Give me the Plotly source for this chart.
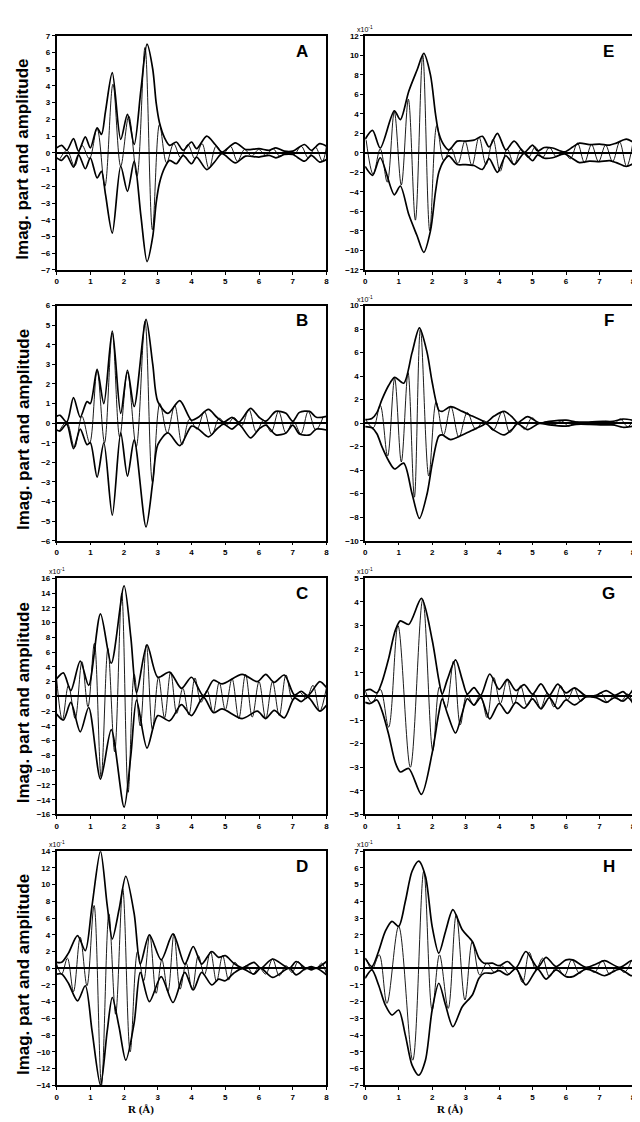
import plotly.graph_objects as go

# ---------------- data ----------------
# Amplitude envelope knots (R in Angstrom, amplitude in displayed units)
A_env_r = [0.0,0.15,0.3,0.5,0.65,0.85,1.0,1.2,1.33,1.45,1.65,1.9,2.1,2.3,2.5,2.68,2.85,2.95,3.05,3.2,3.35,3.55,3.75,4.0,4.15,4.45,4.7,4.9,5.3,5.6,6.0,6.3,6.5,6.75,7.0,7.35,7.55,7.8,8.0]
A_env = [0.3,0.45,0.15,0.85,0.1,0.95,0.3,1.5,1.1,2.5,4.8,0.8,2.3,0.5,3.8,6.5,5.0,3.0,1.8,0.9,0.45,0.65,0.15,0.65,0.25,1.0,0.5,0.05,0.6,0.2,0.25,0.15,0.3,0.1,0.1,0.5,0.15,0.55,0.4]
A_im_r = [0.1,0.31,0.53,0.75,0.97,1.2,1.43,1.67,1.9,2.14,2.38,2.62,2.84,3.05,3.26,3.47,3.68,3.89,4.1,4.31,4.52,4.73,4.94,5.15,5.36,5.57,5.78,5.99,6.2,6.41,6.62,6.83,7.04,7.25,7.46,7.67,7.88,8.0]
A_im = [-0.35,0.15,-0.8,0.45,-0.35,1.45,-2.0,4.1,-0.8,2.2,-1.4,6.3,-4.6,1.7,-0.6,0.55,-0.3,0.5,-0.35,0.55,-0.95,0.4,-0.05,0.4,-0.5,0.2,-0.2,0.2,-0.15,0.25,-0.2,0.08,-0.1,0.4,-0.3,0.35,-0.5,0.4]

B_env_r = [0,0.1,0.3,0.5,0.7,0.9,1.0,1.2,1.4,1.65,1.9,2.1,2.3,2.65,2.85,3.0,3.3,3.65,4.0,4.2,4.5,4.75,4.95,5.2,5.4,5.75,6.0,6.2,6.5,6.8,7.0,7.2,7.5,7.7,8.0]
B_env = [0.35,0.4,0.05,1.3,0.3,1.1,1.0,2.75,1.0,4.7,0.5,2.7,0.85,5.3,3.0,1.1,0.5,1.15,0.15,0.3,0.7,0.3,0.05,0.3,0.05,0.75,0.3,0.1,0.6,0.5,0.1,0.55,0.6,0.3,0.35]
B_im_r = [0.08,0.3,0.53,0.75,0.98,1.2,1.42,1.65,1.87,2.1,2.36,2.62,2.84,3.06,3.28,3.5,3.72,3.94,4.16,4.38,4.6,4.82,5.04,5.26,5.48,5.7,5.92,6.14,6.36,6.58,6.8,7.02,7.24,7.46,7.68,7.9]
B_im = [-0.4,0.05,-1.25,0.35,-1.0,2.7,-1.0,4.6,-0.7,2.6,-1.2,5.2,-3.0,1.0,-0.5,0.9,-1.1,0.2,-0.3,0.6,-0.6,0.25,-0.1,0.28,-0.15,0.7,-0.45,0.15,-0.45,0.6,-0.5,0.1,-0.55,0.6,-0.35,0.3]

C_env_r = [0,0.2,0.42,0.7,0.95,1.3,1.62,2.0,2.2,2.37,2.68,3.0,3.35,3.7,4.0,4.35,4.65,4.9,5.5,5.95,6.2,6.45,6.75,7.05,7.25,7.45,7.8,8.0]
C_env = [2.4,3.2,0.8,4.8,1.5,11.2,4.5,15.0,8.0,0.5,7.0,2.6,3.3,1.1,2.6,0.1,2.2,1.7,3.0,2.0,3.0,1.9,2.9,0.2,0.7,0.1,2.0,1.2]
C_im_r = [0.0,0.17,0.35,0.55,0.75,0.93,1.12,1.32,1.52,1.72,1.93,2.12,2.3,2.48,2.66,2.84,3.02,3.2,3.38,3.56,3.74,3.92,4.1,4.28,4.46,4.64,4.82,5.0,5.2,5.4,5.6,5.8,6.0,6.2,6.4,6.6,6.8,7.0,7.2,7.4,7.6,7.8,8.0]
C_im = [2.4,-3.2,1.5,-3.0,4.7,-1.4,7.2,-11.0,6.5,-7.5,14.0,-13.0,3.0,-4.0,7.0,-4.5,2.6,-2.9,3.3,-2.3,1.1,-2.5,2.5,-0.8,0.8,-2.2,1.9,-1.8,2.4,-3.0,3.0,-2.8,2.0,-3.0,2.0,-2.6,2.9,-0.5,0.6,-0.3,1.5,-2.0,1.2]

D_env_r = [0,0.15,0.35,0.62,0.85,1.05,1.3,1.5,1.65,1.85,2.05,2.3,2.48,2.75,3.1,3.45,3.8,4.05,4.3,4.6,4.8,5.0,5.25,5.5,5.85,6.05,6.4,6.9,7.1,7.4,7.55,7.7,8.0]
D_env = [0.7,0.7,1.8,3.9,2.1,7.5,14.0,7.5,3.5,7.0,11.0,6.5,0.5,4.0,1.0,4.1,0.5,2.6,0.5,2.0,1.3,1.5,0.6,0.05,0.7,0.0,1.1,0.0,0.8,0.0,0.2,0.0,0.8]
D_im_r = [0.0,0.15,0.32,0.5,0.7,0.9,1.11,1.33,1.55,1.75,1.96,2.18,2.4,2.58,2.76,2.95,3.12,3.3,3.48,3.66,3.84,4.02,4.2,4.38,4.56,4.74,4.92,5.1,5.28,5.46,5.64,5.82,6.0,6.2,6.4,6.6,6.8,6.98,7.16,7.34,7.52,7.7,7.86,8.0]
D_im = [0.5,-0.7,1.2,-2.8,3.7,-2.1,7.5,-14.0,6.5,-5.5,9.5,-10.0,2.0,-1.5,4.0,-3.0,1.0,-2.8,4.1,-2.5,0.6,-2.6,1.5,-0.8,2.0,-1.6,1.5,-1.4,0.7,-0.1,0.3,-0.7,0.1,-0.7,1.1,-0.9,0.3,-0.5,0.8,-0.2,0.2,-0.05,0.6,-0.8]

E_env_r = [0,0.22,0.45,0.87,1.05,1.3,1.55,1.75,1.95,2.1,2.2,2.35,2.5,2.75,3.0,3.25,3.5,3.7,3.95,4.2,4.45,4.75,5.0,5.15,5.35,5.6,5.95,6.2,6.4,6.7,7.0,7.3,7.5,7.8,8.0]
E_env = [1.4,2.3,0.5,4.3,3.4,6.3,8.5,10.2,8.0,4.0,2.0,0.8,0.3,1.2,1.2,1.3,1.7,0.6,2.0,0.3,1.2,0.05,0.8,0.2,0.55,0.5,0.1,0.6,1.0,0.85,0.9,0.8,1.0,1.4,1.1]
E_im_r = [0.03,0.24,0.45,0.66,0.87,1.08,1.29,1.5,1.72,1.93,2.14,2.35,2.56,2.77,2.98,3.19,3.4,3.61,3.82,4.03,4.24,4.45,4.66,4.87,5.08,5.29,5.5,5.71,5.92,6.13,6.34,6.55,6.76,6.97,7.18,7.39,7.6,7.81,8.0]
E_im = [1.3,-2.2,0.4,-3.0,4.2,-3.3,5.5,-6.9,10.0,-8.0,2.8,-0.8,0.5,-1.1,1.2,-1.3,1.6,-1.2,1.4,-1.9,0.4,-1.2,0.4,-0.5,0.6,-0.5,0.55,-0.4,0.1,-0.6,1.0,-1.0,0.85,-0.9,0.8,-0.9,1.1,-1.4,1.1]

F_env_r = [0,0.2,0.35,0.5,0.7,0.88,1.15,1.4,1.62,1.85,2.0,2.2,2.3,2.55,2.9,3.2,3.5,3.6,3.85,4.15,4.4,4.55,4.85,5.2,5.5,6.0,6.3,6.7,7.1,7.4,7.7,8.0]
F_env = [0.3,0.4,0.9,2.0,3.2,3.9,3.4,6.0,8.1,6.0,3.5,1.1,1.0,1.4,1.0,0.6,0.2,0.05,0.6,1.0,0.5,0.05,0.55,0.02,0.15,0.25,0.1,0.1,0.15,0.15,0.35,0.25]
F_im_r = [0.02,0.24,0.45,0.67,0.88,1.08,1.28,1.47,1.65,1.9,2.12,2.34,2.56,2.8,3.05,3.3,3.55,3.82,4.1,4.32,4.54,4.76,4.98,5.2,5.42,5.64,5.86,6.08,6.3,6.52,6.74,6.96,7.18,7.4,7.62,7.84,8.0]
F_im = [0.28,-0.4,1.5,-2.8,3.8,-3.3,4.3,-6.3,8.0,-4.5,1.8,-1.0,1.4,-1.2,0.9,-0.5,0.2,-0.6,1.0,-0.8,0.05,-0.5,0.45,-0.02,0.12,-0.15,0.2,-0.25,0.12,-0.1,0.1,-0.1,0.15,-0.15,0.35,-0.3,0.25]

G_env_r = [0,0.15,0.35,0.5,0.7,0.9,1.05,1.3,1.68,2.0,2.2,2.3,2.45,2.7,2.9,3.05,3.25,3.45,3.72,4.0,4.25,4.5,4.75,5.0,5.25,5.5,5.75,6.0,6.25,6.6,6.9,7.2,7.45,7.7,7.85,8.0]
G_env = [0.25,0.3,0.15,0.6,1.6,2.8,3.2,3.05,4.15,2.4,0.7,0.1,0.7,1.55,0.7,0.1,0.37,0.05,0.95,0.3,0.72,0.25,0.5,0.1,0.53,0.05,0.52,0.15,0.36,0.02,0.05,0.25,0.05,0.2,0.05,0.3]
G_im_r = [0.0,0.2,0.45,0.7,0.98,1.35,1.72,2.02,2.22,2.42,2.64,2.84,3.04,3.24,3.44,3.64,3.84,4.04,4.24,4.44,4.64,4.84,5.04,5.24,5.44,5.64,5.84,6.04,6.24,6.44,6.64,6.84,7.04,7.24,7.44,7.64,7.84,8.0]
G_im = [0.25,-0.28,0.3,-1.3,3.0,-3.0,4.1,-2.3,0.4,-0.5,1.5,-1.2,0.1,-0.35,0.05,-0.9,0.8,-0.3,0.7,-0.35,0.45,-0.4,0.1,-0.5,0.15,-0.45,0.45,-0.15,0.35,-0.2,0.02,-0.05,0.15,-0.25,0.05,-0.2,0.1,-0.3]

H_env_r = [0,0.2,0.4,0.6,0.8,1.0,1.2,1.4,1.6,1.8,2.0,2.2,2.4,2.62,2.9,3.2,3.4,3.55,3.8,4.0,4.25,4.5,4.8,5.15,5.4,5.7,6.0,6.2,6.6,6.9,7.15,7.6,7.95,8.0]
H_env = [0.6,0.1,1.0,2.2,2.8,2.5,4.0,5.8,6.4,5.5,2.5,0.9,2.2,3.5,2.3,1.6,0.6,0.3,0.3,0.15,0.4,0.02,1.0,0.05,0.65,0.1,0.5,0.5,0.05,0.25,0.45,0.05,0.45,0.4]
H_im_r = [0.05,0.2,0.42,0.65,1.0,1.42,1.75,2.0,2.22,2.48,2.72,2.98,3.2,3.42,3.64,3.86,4.08,4.3,4.5,4.7,4.9,5.1,5.3,5.5,5.72,5.95,6.17,6.4,6.62,6.85,7.08,7.3,7.52,7.74,7.95]
H_im = [0.5,-0.1,0.8,-2.1,2.5,-5.5,5.8,-2.5,0.8,-2.4,3.2,-1.9,1.6,-0.4,0.3,-0.25,0.15,-0.35,0.02,-0.85,0.95,-0.1,0.6,-0.5,0.1,-0.45,0.5,-0.3,0.05,-0.25,0.45,-0.35,0.1,-0.25,0.45]

# panel labels, y-axis limits / tick steps, scale note
PANELS = ['A', 'B', 'C', 'D', 'E', 'F', 'G', 'H']
Y_MAX = [7, 6, 16, 14, 12, 10, 5, 7]
Y_STEP = [1, 1, 2, 2, 2, 2, 1, 1]
SCALED = [False, False, True, True, True, True, True, True]
X_TICKS = [0, 1, 2, 3, 4, 5, 6, 7, 8]

DATA = {
    'A': (A_env_r, A_env, A_im_r, A_im), 'B': (B_env_r, B_env, B_im_r, B_im),
    'C': (C_env_r, C_env, C_im_r, C_im), 'D': (D_env_r, D_env, D_im_r, D_im),
    'E': (E_env_r, E_env, E_im_r, E_im), 'F': (F_env_r, F_env, F_im_r, F_im),
    'G': (G_env_r, G_env, G_im_r, G_im), 'H': (H_env_r, H_env, H_im_r, H_im),
}

# ---------------- layout geometry ----------------
# The page body has an 8px margin, so the figure is drawn 8px in from the
# window's top-left corner; positions below are window pixels, shifted by OFF.
OFF = 8
W, H = 632, 1114
COL_X = [(55, 327), (366, 636)]
ROW_Y = [(32, 268), (304, 541), (579, 817), (854, 1090)]


def px(x):
    return (x - OFF) / W


def py(y):
    return 1 - (y - OFF) / H


fig = go.Figure()
layout = dict(width=W, height=H, margin=dict(l=0, r=0, t=0, b=0),
              paper_bgcolor='white', plot_bgcolor='white', showlegend=False)
annotations = []
tickfont = dict(family='Liberation Sans', size=8, color='black', weight='bold')

for i, name in enumerate(PANELS):
    k = i + 1
    col = 0 if i < 4 else 1
    row = i % 4
    xa = 'x' if k == 1 else f'x{k}'
    ya = 'y' if k == 1 else f'y{k}'
    env_r, env, im_r, im = DATA[name]

    fig.add_trace(go.Scatter(x=im_r, y=im, mode='lines', xaxis=xa, yaxis=ya,
                             line=dict(color='black', width=0.9, shape='spline', smoothing=1.0),
                             hoverinfo='skip'))
    fig.add_trace(go.Scatter(x=env_r, y=env, mode='lines', xaxis=xa, yaxis=ya,
                             line=dict(color='black', width=1.7, shape='spline', smoothing=0.8),
                             hoverinfo='skip'))
    fig.add_trace(go.Scatter(x=env_r, y=[-v for v in env], mode='lines', xaxis=xa, yaxis=ya,
                             line=dict(color='black', width=1.7, shape='spline', smoothing=0.8),
                             hoverinfo='skip'))

    x0, x1 = COL_X[col]
    t, b = ROW_Y[row]
    m, s = Y_MAX[i], Y_STEP[i]
    yt = list(range(-m, m + 1, s))
    axsuffix = '' if k == 1 else str(k)
    layout['xaxis' + axsuffix] = dict(
        domain=[px(x0), px(x1)], anchor=ya, range=[0, 8], tickvals=X_TICKS,
        ticks='outside', ticklen=3, tickwidth=1, tickcolor='black',
        showline=True, mirror=True, linecolor='black', linewidth=1.5,
        showgrid=False, zeroline=False, tickfont=tickfont, fixedrange=True,
        ticklabeloverflow='allow')
    layout['yaxis' + axsuffix] = dict(
        domain=[py(b), py(t)], anchor=xa, range=[-m, m], tickvals=yt,
        ticks='outside', ticklen=3, tickwidth=1, tickcolor='black',
        showline=True, mirror=True, linecolor='black', linewidth=1.5,
        showgrid=False, zeroline=True, zerolinecolor='black', zerolinewidth=2.4,
        tickfont=tickfont, fixedrange=True)

    annotations.append(dict(text=name, xref=f'{xa} domain', yref=f'{ya} domain',
                            x=0.91, y=0.935, xanchor='center', yanchor='middle', showarrow=False,
                            font=dict(family='Liberation Sans', size=17, color='black', weight='bold')))
    if SCALED[i]:
        annotations.append(dict(text='x10<sup>-1</sup>', xref=f'{xa} domain', yref=f'{ya} domain',
                                x=0, y=1, xanchor='right', yanchor='bottom', xshift=10, yshift=1,
                                showarrow=False,
                                font=dict(family='Liberation Sans', size=7, color='black')))
    if col == 0:
        annotations.append(dict(text='Imag. part and amplitude', xref='paper', yref='paper',
                                x=px(21), y=py((t + b) / 2 + 6), textangle=-90,
                                xanchor='center', yanchor='middle', showarrow=False,
                                font=dict(family='Liberation Sans', size=17, color='black', weight='bold')))

for xc in (140, 452):
    annotations.append(dict(text='R (Å)', xref='paper', yref='paper', x=px(xc), y=py(1114),
                            xanchor='center', yanchor='middle', showarrow=False,
                            font=dict(family='Liberation Serif', size=11, color='black', weight='bold')))

layout['annotations'] = annotations
fig.update_layout(**layout)
fig.write_html('out.html')
